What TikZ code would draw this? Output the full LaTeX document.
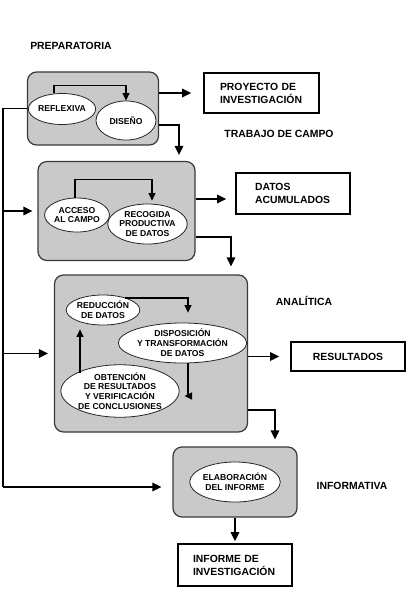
\documentclass[tikz,border=0pt]{standalone}
\usepackage{fontspec}
\setmainfont{Liberation Sans}
\usetikzlibrary{shapes.geometric,arrows.meta}
\definecolor{boxgray}{HTML}{C9C9C9}
\definecolor{boxline}{HTML}{3A3A3A}
\begin{document}
\begin{tikzpicture}[x=1pt,y=-1pt,
  phase/.style={draw=boxline, fill=boxgray, rounded corners=9pt, line width=1.2pt, inner sep=0pt},
  ell/.style={ellipse, draw=black!85, fill=white, line width=0.8pt, inner sep=0pt, align=center,
    font=\fontsize{8.6}{9.8}\selectfont\bfseries},
  outbox/.style={draw=black, line width=1.6pt, fill=white, inner ysep=0pt,
    font=\fontsize{10.4}{13}\selectfont\bfseries},
  lbl/.style={font=\fontsize{10.4}{13}\selectfont\bfseries, inner sep=0pt},
  ln/.style={line width=1.6pt},
  arr/.style={line width=1.6pt, -{Triangle[length=9pt,width=8.5pt]}},
  iarr/.style={line width=1.2pt, -{Triangle[length=7.5pt,width=7pt]}}]
\useasboundingbox[fill=white] (0,0) rectangle (411,600);

% labels
\node[lbl] (tprep) at (71,46) {PREPARATORIA};
\node[lbl] (tcampo) at (279,134) {TRABAJO DE CAMPO};
\node[lbl] (tanal) at (304,301) {ANALÍTICA};
\node[lbl] (tinfo) at (352,486) {INFORMATIVA};

% phase boxes
\node[phase, minimum width=131pt, minimum height=73pt] (b1) at (93,108.5) {};
\node[phase, minimum width=157pt, minimum height=99pt] (b2) at (116.5,211) {};
\node[phase, minimum width=193pt, minimum height=157pt] (b3) at (151,353.5) {};
\node[phase, minimum width=124pt, minimum height=70pt] (b4) at (235,482) {};

% ellipses
\node[ell, minimum width=58pt, minimum height=31pt] (ref) at (62,109) {REFLEXIVA};
\node[ell, minimum width=60pt, minimum height=39pt] (dis) at (126,120.5) {DISEÑO};
\node[ell, minimum width=64pt, minimum height=34pt] (acc) at (77,215) {ACCESO\\AL CAMPO};
\node[ell, minimum width=69pt, minimum height=40pt] (rec) at (147.5,224) {RECOGIDA\\PRODUCTIVA\\DE DATOS};
\node[ell, minimum width=70pt, minimum height=30pt] (red) at (103,310) {REDUCCIÓN\\DE DATOS};
\node[ell, minimum width=101pt, minimum height=40pt] (dsp) at (182.5,343) {DISPOSICIÓN\\Y TRANSFORMACIÓN\\DE DATOS};
\node[ell, minimum width=110pt, minimum height=52pt] (obt) at (120,391) {OBTENCIÓN\\DE RESULTADOS\\Y VERIFICACIÓN\\DE CONCLUSIONES};
\node[ell, minimum width=76pt, minimum height=40pt] (ela) at (235,482) {ELABORACIÓN\\DEL INFORME};

% output boxes
\node[outbox, text width=83pt, inner xsep=16pt, align=left, minimum height=40pt] (pro) at (261.5,93) {PROYECTO DE\\INVESTIGACIÓN};
\node[outbox, text width=76pt, inner xsep=19pt, align=left, minimum height=41pt] (dat) at (293,193.5) {DATOS\\ACUMULADOS};
\node[outbox, minimum width=114pt, minimum height=29pt, inner xsep=0pt] (res) at (348,356.5) {RESULTADOS};
\node[outbox, text width=84pt, inner xsep=15pt, align=left, minimum height=42pt] (inf) at (235,565) {INFORME DE\\INVESTIGACIÓN};

% inner arrows
\coordinate (ou) at (80,373);
\coordinate (rs) at (125,298);
\draw[iarr] ([xshift=-8pt]ref.north) |- ([yshift=15pt]dis.north) -- (dis.north);
\draw[iarr, shorten >=3pt] ([xshift=-2pt]acc.north) |- ([xshift=4.5pt,yshift=24pt]rec.north) -- ([xshift=4.5pt]rec.north);
\draw[iarr, shorten >=10pt] (rs) -| ([xshift=5.5pt]dsp.north);
\draw[iarr, shorten >=5pt] ([xshift=5.5pt]dsp.south) |- ([yshift=-5pt]obt.east);
\draw[iarr, shorten >=4pt] (ou) -- (ou |- red.south);

% phase outputs
\draw[arr, shorten >=12pt] ([yshift=15.5pt]b1.east) -- ([yshift=15.5pt]b1.east -| pro.west);
\draw[arr, shorten >=6pt] ([yshift=-16.5pt]b1.east) -| ([xshift=62.5pt]b2.north);
\draw[arr, shorten >=9pt] ([yshift=12pt]b2.east) -- ([yshift=12pt]b2.east -| dat.west);
\draw[arr, shorten >=8pt] ([yshift=-26pt]b2.east) -| ([xshift=80pt]b3.north);
\draw[arr, shorten >=11pt] (b3.east |- res.west) -- (res.west);
\draw[arr, shorten >=7pt] ([yshift=-56.5pt]b3.east) -| ([xshift=40pt]b4.north);
\draw[arr, shorten >=2pt] (b4.south) -- (inf.north);

% left feedback line
\coordinate (L1) at (3,108.5);
\coordinate (L2) at (3,487);
\draw[ln] (b1.west) -- (L1) -- (L2);
\draw[arr, shorten >=5pt] (L1 |- b2.west) -- (b2.west);
\draw[arr, shorten >=6pt] (L1 |- b3.west) -- (b3.west);
\draw[arr, shorten >=11pt] (L2) -- (L2 -| b4.west);
\end{tikzpicture}
\end{document}
